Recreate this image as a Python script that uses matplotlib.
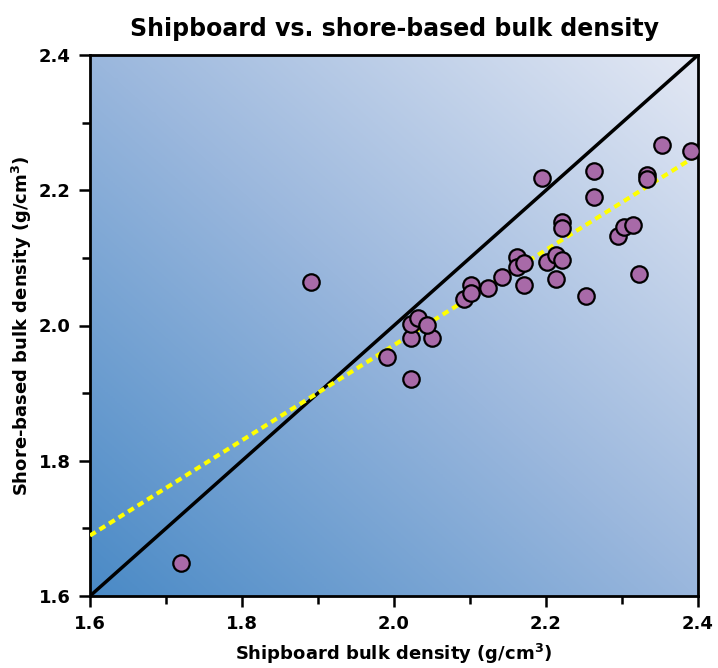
import numpy as np
import matplotlib
matplotlib.use("Agg")
import matplotlib.pyplot as plt
from matplotlib.colors import LinearSegmentedColormap
from matplotlib.ticker import MultipleLocator

# Data
shipboard = [1.720, 1.891, 1.991, 2.022, 2.022, 2.050, 2.022, 2.032, 2.043, 2.092,
             2.101, 2.101, 2.124, 2.142, 2.162, 2.162, 2.171, 2.171, 2.201, 2.213,
             2.221, 2.213, 2.195, 2.263, 2.263, 2.353, 2.391, 2.333, 2.333, 2.221,
             2.221, 2.253, 2.295, 2.303, 2.314, 2.322]
shore = [1.649, 2.064, 1.954, 1.921, 1.982, 1.982, 2.002, 2.011, 2.001, 2.039,
         2.060, 2.048, 2.056, 2.072, 2.101, 2.087, 2.093, 2.060, 2.094, 2.104,
         2.097, 2.069, 2.218, 2.229, 2.190, 2.267, 2.258, 2.223, 2.217, 2.153,
         2.144, 2.044, 2.133, 2.146, 2.149, 2.076]
fit_slope = 0.704
fit_intercept = 0.563
axis_range = [1.6, 2.4]
tick_values = [1.6, 1.8, 2.0, 2.2, 2.4]

plt.rcParams['font.family'] = ['DejaVu Sans']
fig = plt.figure(figsize=(7.18, 6.68), dpi=100)
ax = fig.add_axes([90/718, 1-596/668, 608/718, 541/668])

# gradient background
n = 256
u = np.linspace(0, 1, n)
U, V = np.meshgrid(u, u)
G = (U + V) / 2
cmap = LinearSegmentedColormap.from_list("bg", ["#4a8ac6", "#9ab7dd", "#e3e8f4"])
ax.imshow(G, extent=[axis_range[0], axis_range[1], axis_range[0], axis_range[1]],
          origin='lower', cmap=cmap, aspect='auto', zorder=0, interpolation='bilinear')

# 1:1 line
ax.plot(axis_range, axis_range, color='black', lw=2.5, zorder=2)
# regression line
xs = np.array(axis_range)
ax.plot(xs, fit_intercept + fit_slope * xs, color='#ffff00', lw=3,
        linestyle=(0, (1.6, 1.1)), zorder=3)

ax.scatter(shipboard, shore, s=140, facecolor='#a86aa8', edgecolor='black',
           linewidth=1.6, zorder=4)

ax.set_xlim(axis_range)
ax.set_ylim(axis_range)
ax.set_xticks(tick_values)
ax.set_yticks(tick_values)
ax.xaxis.set_minor_locator(MultipleLocator(0.1))
ax.yaxis.set_minor_locator(MultipleLocator(0.1))
ax.set_xticklabels([f"{v:.1f}" for v in tick_values], fontweight='bold', fontsize=13)
ax.set_yticklabels([f"{v:.1f}" for v in tick_values], fontweight='bold', fontsize=13)
ax.tick_params(which='major', direction='out', length=8, width=1.8, pad=6)
ax.tick_params(which='minor', direction='out', length=6, width=1.8)
for sp in ax.spines.values():
    sp.set_linewidth(2)

ax.set_xlabel("Shipboard bulk density (g/cm$^\\mathbf{3}$)", fontweight='bold', fontsize=13, labelpad=6)
ax.set_ylabel("Shore-based bulk density (g/cm$^\\mathbf{3}$)", fontweight='bold', fontsize=13, labelpad=3)
ax.set_title("Shipboard vs. shore-based bulk density", fontweight='bold', fontsize=17, pad=14)

fig.savefig("out.png", dpi=100)
